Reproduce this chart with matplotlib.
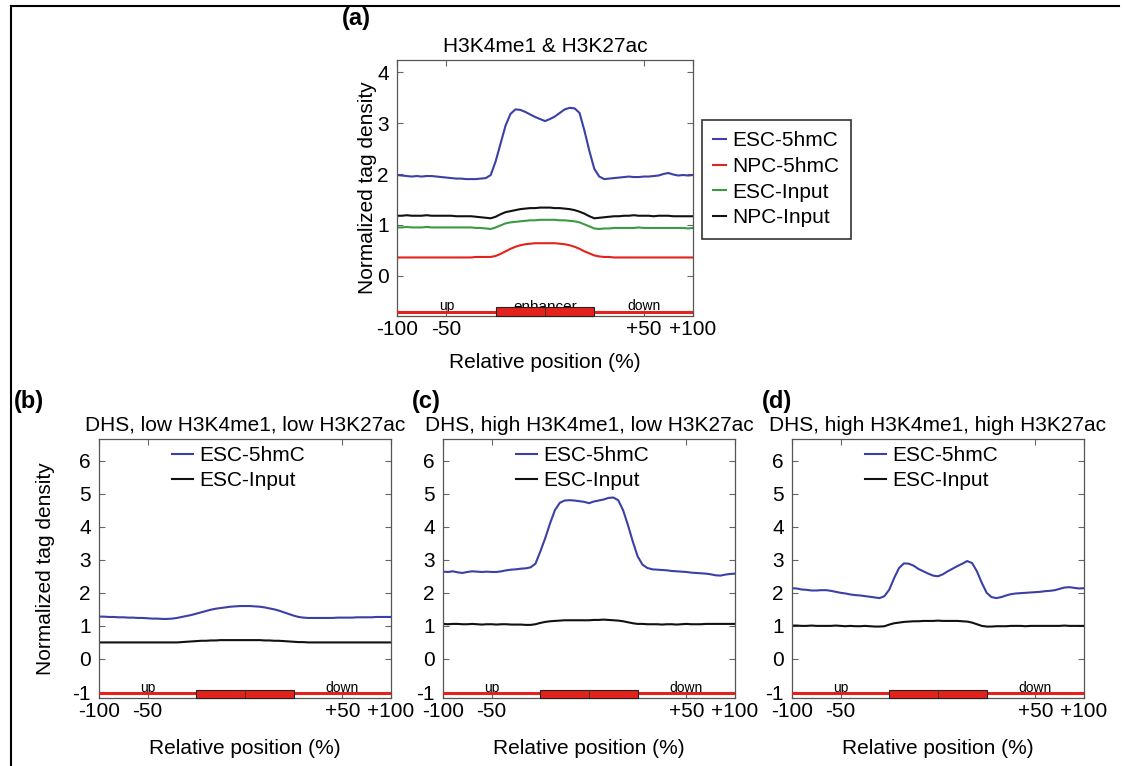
import numpy as np
import matplotlib
matplotlib.use("Agg")
import matplotlib.pyplot as plt
from matplotlib.patches import Rectangle
from matplotlib.lines import Line2D

plt.rcParams['font.family'] = ['Liberation Sans', 'DejaVu Sans']
plt.rcParams['axes.unicode_minus'] = False

# relative position grid (0..300 = upstream | enhancer | downstream)
pos = np.arange(0, 301, 5)
xtick_pos = [0, 50, 250, 300]
xtick_labels = ['-100', '-50', '+50', '+100']

# (a) H3K4me1 & H3K27ac
a_esc_5hmc = [1.98, 1.97, 1.96, 1.95, 1.96, 1.95, 1.96, 1.96, 1.95, 1.94, 1.93, 1.92, 1.91, 1.91, 1.90, 1.90, 1.90, 1.91, 1.92,
              1.98, 2.25, 2.60, 2.95, 3.18, 3.27, 3.26, 3.22, 3.17, 3.12, 3.08, 3.04, 3.08, 3.13, 3.20, 3.27, 3.30, 3.29, 3.20, 2.85, 2.45, 2.10, 1.95, 1.90, 1.91, 1.92,
              1.93, 1.94, 1.95, 1.94, 1.94, 1.95, 1.95, 1.96, 1.97, 2.00, 2.02, 1.99, 1.97, 1.98, 1.97, 1.98]
a_npc_5hmc = [0.36] * 16 + [0.37, 0.37, 0.37,
              0.37, 0.39, 0.43, 0.48, 0.53, 0.57, 0.60, 0.62, 0.63, 0.64, 0.64, 0.64, 0.64, 0.64, 0.63, 0.62, 0.60, 0.57, 0.53, 0.48, 0.44, 0.40, 0.38, 0.37, 0.37, 0.36] + [0.36] * 16
a_esc_input = [0.95, 0.95, 0.96, 0.95, 0.95, 0.95, 0.96, 0.95, 0.95, 0.95, 0.95, 0.95, 0.95, 0.95, 0.95, 0.95, 0.94, 0.94, 0.93,
               0.92, 0.95, 0.99, 1.03, 1.05, 1.06, 1.07, 1.08, 1.09, 1.09, 1.10, 1.10, 1.10, 1.10, 1.09, 1.09, 1.08, 1.07, 1.05, 1.01, 0.97, 0.93, 0.92, 0.93, 0.93, 0.94,
               0.94, 0.94, 0.94, 0.94, 0.95, 0.94, 0.94, 0.94, 0.94, 0.94, 0.94, 0.94, 0.94, 0.94, 0.93, 0.94]
a_npc_input = [1.18, 1.18, 1.19, 1.18, 1.18, 1.18, 1.19, 1.18, 1.18, 1.18, 1.18, 1.18, 1.17, 1.17, 1.17, 1.17, 1.16, 1.15, 1.14,
               1.13, 1.16, 1.21, 1.25, 1.27, 1.29, 1.31, 1.32, 1.33, 1.33, 1.34, 1.34, 1.34, 1.33, 1.33, 1.32, 1.31, 1.29, 1.26, 1.22, 1.17, 1.13, 1.14, 1.15, 1.16, 1.17,
               1.17, 1.18, 1.18, 1.19, 1.18, 1.18, 1.18, 1.17, 1.18, 1.18, 1.18, 1.17, 1.17, 1.17, 1.17, 1.17]

# (b) DHS, low H3K4me1, low H3K27ac
b_esc_5hmc = [1.28, 1.28, 1.27, 1.27, 1.26, 1.26, 1.25, 1.25, 1.24, 1.24, 1.23, 1.22, 1.22, 1.21, 1.21, 1.22, 1.24, 1.27, 1.30,
              1.33, 1.37, 1.41, 1.45, 1.49, 1.52, 1.54, 1.56, 1.58, 1.59, 1.60, 1.60, 1.60, 1.59, 1.58, 1.56, 1.53, 1.50, 1.46, 1.41, 1.36, 1.31, 1.27, 1.25, 1.24, 1.24,
              1.24, 1.24, 1.24, 1.24, 1.25, 1.25, 1.25, 1.25, 1.26, 1.26, 1.26, 1.26, 1.27, 1.27, 1.27, 1.27]
b_esc_input = [0.50] * 16 + [0.50, 0.51, 0.52,
               0.53, 0.54, 0.55, 0.55, 0.56, 0.56, 0.57, 0.57, 0.57, 0.57, 0.57, 0.57, 0.57, 0.57, 0.57, 0.56, 0.56, 0.55, 0.55, 0.54, 0.53, 0.52, 0.51, 0.51, 0.50, 0.50] + [0.50] * 16

# (c) DHS, high H3K4me1, low H3K27ac
c_esc_5hmc = [2.64, 2.63, 2.65, 2.62, 2.60, 2.63, 2.65, 2.64, 2.63, 2.64, 2.63, 2.63, 2.65, 2.68, 2.70, 2.71, 2.73, 2.74, 2.77,
              2.88, 3.25, 3.65, 4.10, 4.50, 4.72, 4.79, 4.80, 4.79, 4.77, 4.75, 4.71, 4.76, 4.79, 4.82, 4.87, 4.88, 4.80, 4.50, 4.05, 3.55, 3.10, 2.85, 2.75, 2.71, 2.70,
              2.69, 2.68, 2.66, 2.65, 2.64, 2.63, 2.61, 2.60, 2.59, 2.58, 2.56, 2.53, 2.52, 2.55, 2.57, 2.58]
c_esc_input = [1.06, 1.05, 1.06, 1.06, 1.05, 1.05, 1.06, 1.05, 1.04, 1.05, 1.05, 1.04, 1.05, 1.05, 1.04, 1.04, 1.04, 1.03, 1.03,
               1.05, 1.09, 1.12, 1.14, 1.15, 1.16, 1.17, 1.17, 1.17, 1.17, 1.17, 1.17, 1.18, 1.18, 1.19, 1.18, 1.17, 1.16, 1.14, 1.11, 1.08, 1.06, 1.06, 1.05, 1.05, 1.05,
               1.04, 1.05, 1.05, 1.04, 1.05, 1.06, 1.05, 1.05, 1.05, 1.06, 1.06, 1.06, 1.06, 1.06, 1.06, 1.06]

# (d) DHS, high H3K4me1, high H3K27ac
d_esc_5hmc = [2.14, 2.13, 2.10, 2.09, 2.07, 2.07, 2.08, 2.08, 2.06, 2.03, 2.00, 1.98, 1.95, 1.93, 1.92, 1.90, 1.88, 1.86, 1.84,
              1.90, 2.10, 2.45, 2.75, 2.89, 2.88, 2.82, 2.72, 2.65, 2.58, 2.52, 2.50, 2.56, 2.65, 2.73, 2.81, 2.88, 2.96, 2.90, 2.65, 2.30, 2.00, 1.87, 1.84, 1.87, 1.92,
              1.96, 1.98, 1.99, 2.00, 2.01, 2.02, 2.03, 2.05, 2.06, 2.08, 2.12, 2.16, 2.17, 2.15, 2.13, 2.14]
d_esc_input = [1.01, 1.01, 1.00, 1.00, 1.01, 1.00, 1.00, 1.00, 1.00, 1.01, 1.00, 0.99, 1.00, 0.99, 0.99, 1.00, 0.99, 0.98, 0.98,
               0.99, 1.04, 1.08, 1.10, 1.12, 1.13, 1.14, 1.14, 1.15, 1.15, 1.15, 1.16, 1.15, 1.15, 1.15, 1.15, 1.14, 1.13, 1.10, 1.05, 1.00, 0.98, 0.98, 0.99, 0.99, 0.99,
               1.00, 1.00, 1.00, 0.99, 1.00, 1.00, 1.00, 1.00, 1.00, 1.00, 1.00, 1.01, 1.00, 1.00, 1.00, 1.00]

BLUE = '#3b3fa6'
RED = '#e3221c'
GREEN = '#3c9a45'
BLACK = '#111111'
FS = 15

fig = plt.figure(figsize=(11.24, 7.66), dpi=100)
W, H = 1124, 766


def px_axes(l, r, t, b):
    return fig.add_axes([l / W, 1 - b / H, (r - l) / W, (b - t) / H])


def style(ax, ylim, yticks, line_y, rect_top, enhancer=False, xlabelpad=8):
    ax.set_xlim(0, 300)
    ax.set_ylim(*ylim)
    ax.set_xticks(xtick_pos)
    ax.set_xticklabels(xtick_labels)
    ax.set_yticks(yticks)
    ax.tick_params(direction='in', top=True, right=True, length=4, width=0.8,
                   color='#666666', labelsize=FS, pad=3)
    ax.tick_params(axis='y', pad=6)
    for s in ax.spines.values():
        s.set_color('#555555')
        s.set_linewidth(0.9)
    # region track at the bottom
    ax.axhline(line_y, color=RED, lw=2.2, zorder=3)
    ax.add_patch(Rectangle((100, ylim[0]), 100, rect_top - ylim[0], facecolor=RED,
                           edgecolor='#222222', lw=0.8, zorder=4, clip_on=False))
    ax.plot([150, 150], [ylim[0], rect_top], color='#333333', lw=0.6, zorder=5)
    ty = rect_top - 0.01 * (ylim[1] - ylim[0])
    ax.text(50, ty, 'up', fontsize=10, ha='center', va='baseline', zorder=2)
    ax.text(250, ty, 'down', fontsize=10, ha='center', va='baseline', zorder=2)
    if enhancer:
        ax.text(150, ty - 0.02, 'enhancer', fontsize=11, ha='center', va='baseline', zorder=2)
    ax.set_xlabel('Relative position (%)', fontsize=FS, labelpad=xlabelpad)


# panel (a)
ax = px_axes(397, 693, 60, 316)
ax.plot(pos, a_esc_5hmc, color=BLUE, lw=1.5, label='ESC-5hmC')
ax.plot(pos, a_npc_5hmc, color=RED, lw=1.5, label='NPC-5hmC')
ax.plot(pos, a_esc_input, color=GREEN, lw=1.5, label='ESC-Input')
ax.plot(pos, a_npc_input, color=BLACK, lw=1.5, label='NPC-Input')
style(ax, (-0.79, 4.24), [0, 1, 2, 3, 4], -0.72, -0.62, enhancer=True, xlabelpad=10)
ax.set_title('H3K4me1 & H3K27ac', fontsize=FS, pad=6)
ax.set_ylabel('Normalized tag density', fontsize=FS, labelpad=0)
leg = ax.legend(loc='upper left', bbox_to_anchor=(702 / W, 1 - 120 / H), bbox_transform=fig.transFigure,
                fontsize=FS, handlelength=0.6, handletextpad=0.3, labelspacing=0.32,
                borderpad=0.55, borderaxespad=0, fancybox=False, edgecolor='black')
leg.get_frame().set_linewidth(1.2)

lower = [
    ('DHS, low H3K4me1, low H3K27ac', b_esc_5hmc, b_esc_input, 99, 391, '(b)', 14),
    ('DHS, high H3K4me1, low H3K27ac', c_esc_5hmc, c_esc_input, 443, 735, '(c)', 412),
    ('DHS, high H3K4me1, high H3K27ac', d_esc_5hmc, d_esc_input, 792, 1084, '(d)', 762),
]
for i, (title, s5, sin, l, r, tag, tx) in enumerate(lower):
    ax = px_axes(l, r, 439, 698)
    ax.plot(pos, s5, color=BLUE, lw=1.5, label='ESC-5hmC')
    ax.plot(pos, sin, color=BLACK, lw=1.5, label='ESC-Input')
    style(ax, (-1.18, 6.65), list(range(-1, 7)), -1.03, -0.93, xlabelpad=13)
    ax.set_title(title, fontsize=FS, pad=6)
    ax.legend(loc='upper left', bbox_to_anchor=(0.2, 1.03), fontsize=FS, frameon=False,
              handlelength=1.0, handletextpad=0.3, labelspacing=0.3, borderpad=0.2)
    if i == 0:
        ax.set_ylabel('Normalized tag density', fontsize=FS, labelpad=12)
    fig.text(tx / W, 1 - 402 / H, tag, fontsize=17, fontweight='bold', ha='left', va='center')

fig.text(342 / W, 1 - 19 / H, '(a)', fontsize=17, fontweight='bold', ha='left', va='center')

# frame lines at top and left
fig.add_artist(Line2D([11 / W, 1119 / W], [1 - 6 / H, 1 - 6 / H], color='black', lw=1.5))
fig.add_artist(Line2D([11 / W, 11 / W], [1 - 6 / H, 0], color='black', lw=1.5))

fig.savefig('out.png', dpi=100)
